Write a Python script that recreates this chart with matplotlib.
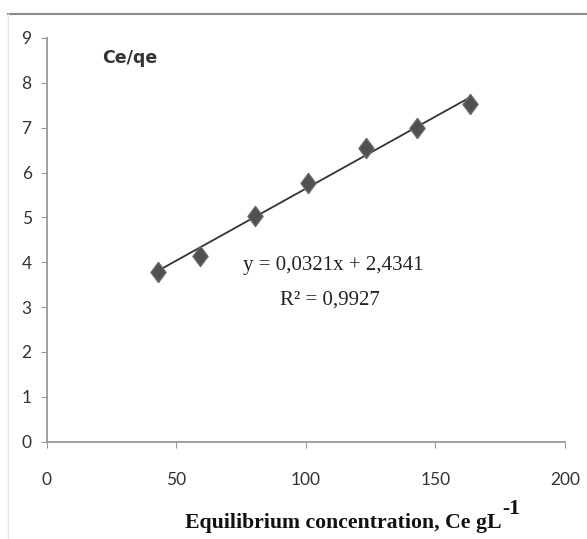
import matplotlib
matplotlib.use("Agg")
import matplotlib.pyplot as plt
import numpy as np
from matplotlib import font_manager
from matplotlib.lines import Line2D
from matplotlib.path import Path

# values
ce = [42.9, 59.1, 80.3, 100.8, 123.2, 142.9, 163.3]
ce_qe = [3.78, 4.13, 5.04, 5.76, 6.55, 7.0, 7.53]
slope = 0.0321
intercept = 2.4341
r2 = 0.9927

x_ticks = [0, 50, 100, 150, 200]
y_ticks = [0, 1, 2, 3, 4, 5, 6, 7, 8, 9]

installed = {f.name for f in font_manager.fontManager.ttflist}
narrow = "Liberation Sans Narrow" if "Liberation Sans Narrow" in installed else "DejaVu Sans Condensed"
tick_font = "Lato" if "Lato" in installed else "DejaVu Sans"

W, H = 587, 539
fig = plt.figure(figsize=(W / 100, H / 100), dpi=100)
ax = fig.add_axes([0.080, 0.1805, 0.8825, 0.749])

# frame lines of the original screenshot
fig.add_artist(Line2D([8 / W, 1], [1 - 14 / H, 1 - 14 / H], color="#8a8a8a", lw=1.5))
fig.add_artist(Line2D([8 / W, 8 / W], [0, 1 - 14 / H], color="#e8e8e8", lw=1))

# slightly tall diamond, like the Excel marker
diamond = Path([(0, 1), (0.75, 0), (0, -1), (-0.75, 0), (0, 1)],
               [Path.MOVETO, Path.LINETO, Path.LINETO, Path.LINETO, Path.CLOSEPOLY])

# trendline
xs = np.array([min(ce), max(ce)])
ax.plot(xs, slope * xs + intercept, color="#333333", lw=1.3, zorder=2)
ax.scatter(ce, ce_qe, marker=diamond, s=210, color="#505050", edgecolors="#6a6a6a",
           linewidths=1, zorder=3)

ax.set_xlim(0, 200)
ax.set_ylim(0, 9)
ax.set_xticks(x_ticks)
ax.set_yticks(y_ticks)
for side in ("top", "right"):
    ax.spines[side].set_visible(False)
for side in ("left", "bottom"):
    ax.spines[side].set_color("#999999")
    ax.spines[side].set_linewidth(1.3)
ax.tick_params(axis="both", direction="out", length=4, color="#999999", labelsize=12.5,
               labelcolor="#333333")
ax.tick_params(axis="x", pad=17.5)
ax.tick_params(axis="y", pad=7)
for lab in ax.get_xticklabels() + ax.get_yticklabels():
    lab.set_family(tick_font)

fig.text(102 / W, 1 - 63 / H, "Ce/qe", fontsize=12.5, fontweight="bold", color="#333333",
         family=narrow, ha="left", va="baseline")

fig.text(333 / W, 1 - 266 / H, "y = 0,0321x + 2,4341", fontsize=15,
         family="Liberation Serif", color="#222222", ha="center", va="center")
fig.text(330 / W, 1 - 300 / H, "R² = 0,9927", fontsize=15,
         family="Liberation Serif", color="#222222", ha="center", va="center")

# axis title, with its big raised "-1" drawn as a separate text
fig.text(185 / W, 1 - 528 / H, "Equilibrium concentration, Ce gL", fontsize=15.7,
         fontweight="bold", family="Liberation Serif", color="#111111",
         ha="left", va="baseline")
fig.text(502 / W, 1 - 514 / H, "-1", fontsize=15.7, fontweight="bold",
         family="Liberation Serif", color="#111111", ha="left", va="baseline")

fig.savefig("out.png", dpi=100, facecolor="white")
